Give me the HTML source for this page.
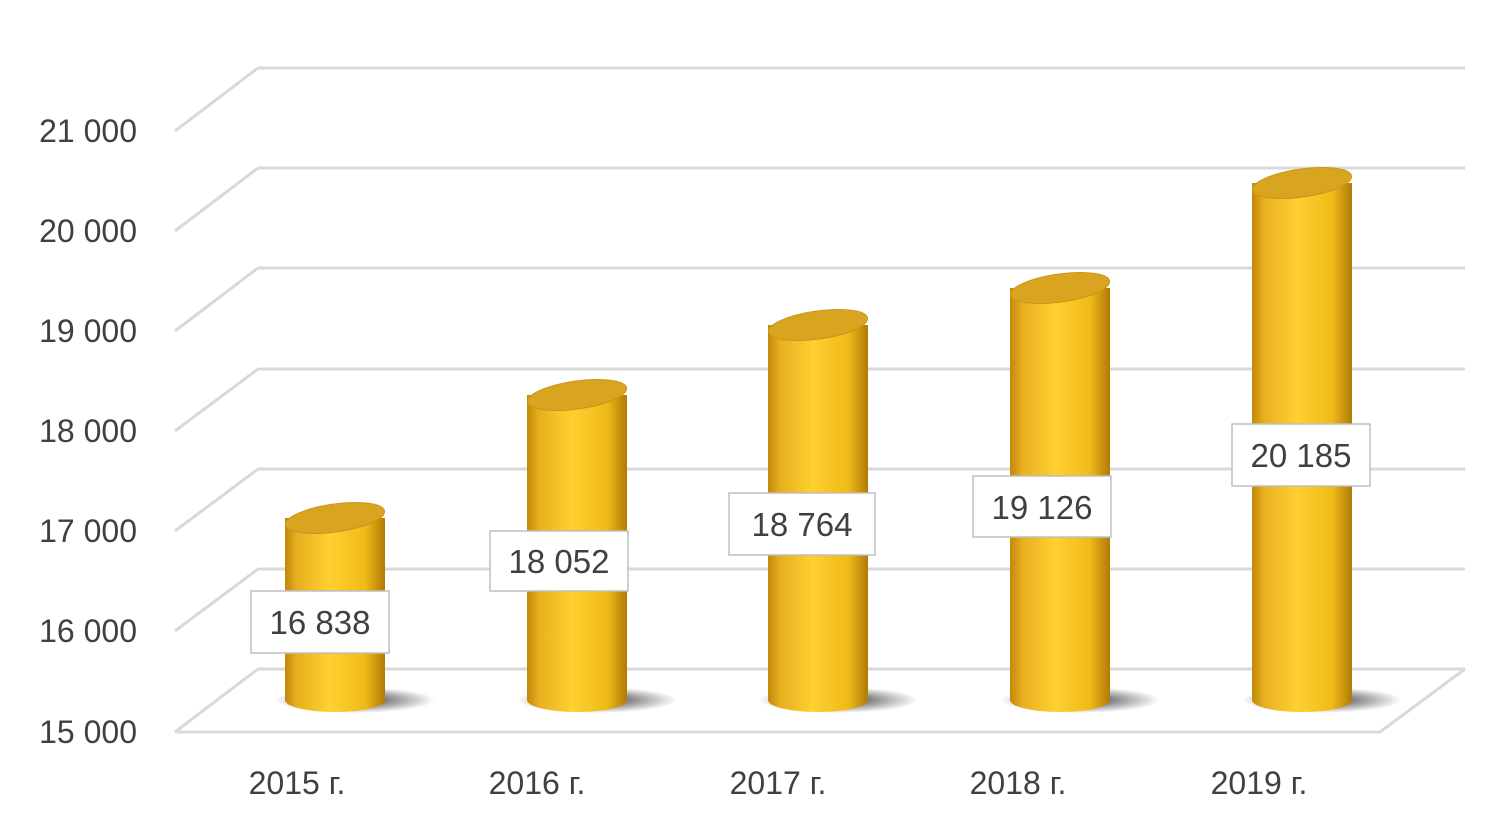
<!DOCTYPE html>
<html><head><meta charset="utf-8"><style>
body{margin:0;background:#fff;width:1500px;height:828px;overflow:hidden}
text{font-family:"Liberation Sans",sans-serif;fill:#404040}
</style></head><body>
<svg width="1500" height="828" viewBox="0 0 1500 828">
<defs>
<linearGradient id="cyl" x1="0" x2="1" y1="0" y2="0">
<stop offset="0" stop-color="#c08808"/><stop offset="0.12" stop-color="#e8b020"/>
<stop offset="0.45" stop-color="#ffd030"/><stop offset="0.8" stop-color="#f0bb18"/>
<stop offset="1" stop-color="#b07a06"/></linearGradient>
<radialGradient id="sh"><stop offset="0" stop-color="#000" stop-opacity="0.8"/><stop offset="1" stop-color="#000" stop-opacity="0"/></radialGradient>
</defs>
<g stroke="#d9d9d9" stroke-width="3" fill="none">
<path d="M258 68H1465M258 168H1465M258 268H1465M258 369H1465M258 469H1465M258 569H1465M258 669H1465"/>
<path d="M175 131L258 68M175 231L258 168M175 331L258 268M175 431L258 369M175 531L258 469M175 631L258 569M175 732L258 669"/>
<path d="M175 732H1380L1465 669"/>
</g>
<g font-size="32" text-anchor="end">
<text x="137" y="142">21 000</text><text x="137" y="242">20 000</text><text x="137" y="342">19 000</text>
<text x="137" y="442">18 000</text><text x="137" y="542">17 000</text><text x="137" y="642">16 000</text><text x="137" y="743">15 000</text>
</g>
<g>
<g>
<ellipse cx="355" cy="700" rx="80" ry="13" fill="url(#sh)"/>
<rect x="285" y="518" width="100" height="182" fill="url(#cyl)"/><ellipse cx="335" cy="700" rx="50" ry="12" fill="url(#cyl)"/>
<ellipse cx="335" cy="518" rx="50" ry="14" fill="#d9a520" stroke="#c8961a" transform="rotate(-8 335 518)"/>
</g>
<g>
<ellipse cx="597" cy="700" rx="80" ry="13" fill="url(#sh)"/>
<rect x="527" y="395" width="100" height="305" fill="url(#cyl)"/><ellipse cx="577" cy="700" rx="50" ry="12" fill="url(#cyl)"/>
<ellipse cx="577" cy="395" rx="50" ry="14" fill="#d9a520" stroke="#c8961a" transform="rotate(-8 577 395)"/>
</g>
<g>
<ellipse cx="838" cy="700" rx="80" ry="13" fill="url(#sh)"/>
<rect x="768" y="325" width="100" height="375" fill="url(#cyl)"/><ellipse cx="818" cy="700" rx="50" ry="12" fill="url(#cyl)"/>
<ellipse cx="818" cy="325" rx="50" ry="14" fill="#d9a520" stroke="#c8961a" transform="rotate(-8 818 325)"/>
</g>
<g>
<ellipse cx="1080" cy="700" rx="80" ry="13" fill="url(#sh)"/>
<rect x="1010" y="288" width="100" height="412" fill="url(#cyl)"/><ellipse cx="1060" cy="700" rx="50" ry="12" fill="url(#cyl)"/>
<ellipse cx="1060" cy="288" rx="50" ry="14" fill="#d9a520" stroke="#c8961a" transform="rotate(-8 1060 288)"/>
</g>
<g>
<ellipse cx="1322" cy="700" rx="80" ry="13" fill="url(#sh)"/>
<rect x="1252" y="183" width="100" height="517" fill="url(#cyl)"/><ellipse cx="1302" cy="700" rx="50" ry="12" fill="url(#cyl)"/>
<ellipse cx="1302" cy="183" rx="50" ry="14" fill="#d9a520" stroke="#c8961a" transform="rotate(-8 1302 183)"/>
</g>
</g>
<g fill="#fff" stroke="#bfbfbf" stroke-width="1.5">
<rect x="251" y="591" width="138" height="62"/><rect x="490" y="531" width="138" height="60"/>
<rect x="729" y="493" width="146" height="62"/><rect x="973" y="476" width="138" height="61"/>
<rect x="1232" y="424" width="138" height="62"/>
</g>
<g font-size="33" text-anchor="middle">
<text x="320" y="634">16 838</text><text x="559" y="573">18 052</text><text x="802" y="536">18 764</text>
<text x="1042" y="519">19 126</text><text x="1301" y="467">20 185</text>
</g>
<g font-size="32" text-anchor="middle">
<text x="297" y="794">2015 г.</text><text x="537" y="794">2016 г.</text><text x="778" y="794">2017 г.</text>
<text x="1018" y="794">2018 г.</text><text x="1259" y="794">2019 г.</text>
</g>
</svg>
</body></html>
